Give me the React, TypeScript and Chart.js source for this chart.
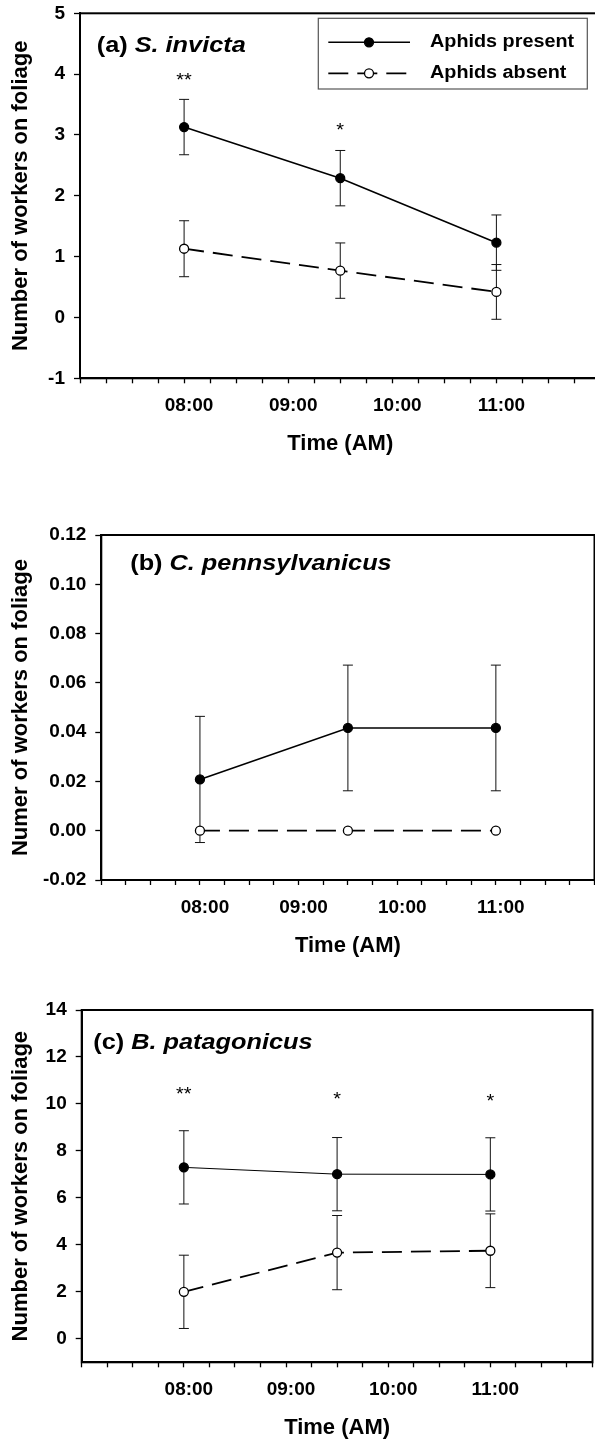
import React, { useEffect, useRef } from 'react';
import { Chart, registerables } from 'chart.js';

Chart.register(...registerables);

const FONT = "'Liberation Sans', Arial, Helvetica, sans-serif";

// ---------- data ----------
const TIMES = [8, 9.5, 11];
const X_MIN = 7;
const X_MAX = 12;
const X_MINOR_STEP = 0.25;
const TIME_TICK_VALUES = [8, 9, 10, 11];
const TIME_TICK_LABELS = ['08:00', '09:00', '10:00', '11:00'];
const SERIES_LABELS = ['Aphids present', 'Aphids absent'];

// (a) S. invicta
const A_PRESENT = [3.13, 2.29, 1.23];
const A_PRESENT_SE = [0.455, 0.455, 0.455];
const A_ABSENT = [1.13, 0.77, 0.42];
const A_ABSENT_SE = [0.46, 0.455, 0.45];
const A_Y_TICKS = [-1, 0, 1, 2, 3, 4, 5];
const A_STAR_X = [8, 9.5];
const A_STAR_Y = [3.94, 3.11];
const A_STAR_TEXT = ['**', '*'];

// (b) C. pennsylvanicus
const B_PRESENT = [0.0208, 0.0417, 0.0417];
const B_PRESENT_SE = [0.0256, 0.0255, 0.0255];
const B_ABSENT = [0, 0, 0];
const B_ABSENT_SE = [0, 0, 0];
const B_Y_TICKS = [-0.02, 0, 0.02, 0.04, 0.06, 0.08, 0.1, 0.12];
const B_STAR_X: number[] = [];
const B_STAR_Y: number[] = [];
const B_STAR_TEXT: string[] = [];

// (c) B. patagonicus
const C_PRESENT = [7.3, 7.01, 7.0];
const C_PRESENT_SE = [1.56, 1.56, 1.56];
const C_ABSENT = [2.0, 3.67, 3.75];
const C_ABSENT_SE = [1.56, 1.58, 1.57];
const C_Y_TICKS = [0, 2, 4, 6, 8, 10, 12, 14];
const C_STAR_X = [8, 9.5, 11];
const C_STAR_Y = [10.52, 10.28, 10.2];
const C_STAR_TEXT = ['**', '*', '*'];

// ---------- panel layout ----------
const X_TICK_PAD = 11.5;
const PANELS = [
  {
    key: 'a', prefix: '(a) ', species: 'S. invicta', yTitle: 'Number of workers on foliage',
    yMin: -1, yMax: 5, yTicks: A_Y_TICKS, yDecimals: 0,
    present: A_PRESENT, presentSE: A_PRESENT_SE, absent: A_ABSENT, absentSE: A_ABSENT_SE,
    starX: A_STAR_X, starY: A_STAR_Y, starText: A_STAR_TEXT,
    presentWidth: 1.6, legend: true,
    left: 80, right: 600.7, top: 13.3, bottom: 378.3, titleDx: 16.7, titleDy: 39,
  },
  {
    key: 'b', prefix: '(b) ', species: 'C. pennsylvanicus', yTitle: 'Numer of workers on foliage',
    yMin: -0.02, yMax: 0.12, yTicks: B_Y_TICKS, yDecimals: 2,
    present: B_PRESENT, presentSE: B_PRESENT_SE, absent: B_ABSENT, absentSE: B_ABSENT_SE,
    starX: B_STAR_X, starY: B_STAR_Y, starText: B_STAR_TEXT,
    presentWidth: 1.6, legend: false,
    left: 101.3, right: 594, top: 535, bottom: 880, titleDx: 28.9, titleDy: 35,
  },
  {
    key: 'c', prefix: '(c) ', species: 'B. patagonicus', yTitle: 'Number of workers on foliage',
    yMin: -1, yMax: 14, yTicks: C_Y_TICKS, yDecimals: 0,
    present: C_PRESENT, presentSE: C_PRESENT_SE, absent: C_ABSENT, absentSE: C_ABSENT_SE,
    starX: C_STAR_X, starY: C_STAR_Y, starText: C_STAR_TEXT,
    presentWidth: 1, legend: false,
    left: 81.7, right: 592, top: 1010, bottom: 1362.3, titleDx: 11.6, titleDy: 39.3,
  },
];

function geom(p: any) {
  const canvasTop = Math.round(p.top - 30);
  const canvasH = Math.round(p.bottom + 80 - canvasTop);
  const canvasW = Math.round(p.right + X_TICK_PAD);
  const xAxisH = canvasTop + canvasH - p.bottom;
  return { canvasTop, canvasH, canvasW, xAxisH, padTop: p.top - canvasTop };
}

function drawStretched(ctx: CanvasRenderingContext2D, text: string, x: number, y: number, font: string, sx: number, align = 'left') {
  ctx.save();
  ctx.font = font;
  const w = ctx.measureText(text).width * sx;
  const x0 = align === 'center' ? x - w / 2 : x;
  ctx.translate(x0, y);
  ctx.scale(sx, 1);
  ctx.textAlign = 'left';
  ctx.textBaseline = 'alphabetic';
  ctx.fillStyle = '#000';
  ctx.fillText(text, 0, 0);
  ctx.restore();
  return w;
}

const decorPlugin = {
  id: 'decor',
  beforeDatasetsDraw(chart: any) {
    const { ctx, scales } = chart;
    const xs = scales.x, ys = scales.y;
    ctx.save();
    ctx.strokeStyle = '#111';
    ctx.lineWidth = 1;
    chart.data.datasets.forEach((ds: any) => {
      ds.data.forEach((pt: any, j: number) => {
        const e = ds.se[j];
        if (!e) return;
        const px = xs.getPixelForValue(pt.x);
        const y1 = ys.getPixelForValue(pt.y + e);
        const y2 = ys.getPixelForValue(pt.y - e);
        ctx.beginPath();
        ctx.moveTo(px, y1); ctx.lineTo(px, y2);
        ctx.moveTo(px - 5, y1); ctx.lineTo(px + 5, y1);
        ctx.moveTo(px - 5, y2); ctx.lineTo(px + 5, y2);
        ctx.stroke();
      });
    });
    ctx.restore();
  },
  afterDatasetsDraw(chart: any, _args: any, opts: any) {
    const { ctx, chartArea, scales } = chart;
    const { left, top, right, bottom } = chartArea;
    // frame
    ctx.save();
    ctx.strokeStyle = '#000';
    ctx.lineWidth = 2;
    ctx.strokeRect(left, top, right - left, bottom - top);
    ctx.restore();
    // panel title
    const tx = left + opts.titleDx;
    const ty = top + opts.titleDy;
    const w = drawStretched(ctx, opts.prefix, tx, ty, `bold 22px ${FONT}`, 1.15);
    drawStretched(ctx, opts.species, tx + w, ty, `italic bold 22px ${FONT}`, 1.15);
    // significance stars
    opts.starX.forEach((sxv: number, i: number) => {
      const px = scales.x.getPixelForValue(sxv);
      const py = scales.y.getPixelForValue(opts.starY[i]);
      drawStretched(ctx, opts.starText[i], px, py + 8, `normal 19px ${FONT}`, 1.05, 'center');
    });
    // legend (canvas coords; panel (a) canvas offset handled by opts.offY)
    if (opts.legend) {
      const oy = opts.offY;
      const bx = 318.3, by = 18.3 - oy, bw = 269, bh = 70.7;
      ctx.save();
      ctx.strokeStyle = '#555';
      ctx.lineWidth = 1.2;
      ctx.strokeRect(bx, by, bw, bh);
      ctx.restore();
      const rows = [42.3 - oy, 73.3 - oy];
      chart.data.datasets.forEach((ds: any, i: number) => {
        const ry = rows[i];
        ctx.save();
        ctx.strokeStyle = '#000';
        ctx.lineWidth = ds.borderWidth;
        ctx.setLineDash(ds.borderDash || []);
        ctx.beginPath();
        ctx.moveTo(328.3, ry); ctx.lineTo(410, ry);
        ctx.stroke();
        ctx.setLineDash([]);
        ctx.beginPath();
        ctx.arc(369, ry, 4.5, 0, Math.PI * 2);
        ctx.fillStyle = ds.pointBackgroundColor;
        ctx.fill();
        ctx.lineWidth = ds.pointBorderWidth;
        ctx.strokeStyle = '#000';
        ctx.stroke();
        ctx.restore();
        drawStretched(ctx, ds.label, 430, ry + 5, `bold 18px ${FONT}`, 1.1);
      });
    }
  },
};

function buildConfig(p: any): any {
  const g = geom(p);
  const titlePadBottom = g.xAxisH - 13.2 - 65.7;
  const ds = (label: string, ys: number[], se: number[], dashed: boolean) => ({
    label,
    data: TIMES.map((t, i) => ({ x: t, y: ys[i] })),
    se,
    borderColor: '#000',
    borderWidth: dashed ? 1.8 : p.presentWidth,
    borderDash: dashed ? [20, 9] : [],
    pointRadius: 4.5,
    pointHoverRadius: 4.5,
    pointBackgroundColor: dashed ? '#fff' : '#000',
    pointBorderColor: '#000',
    pointBorderWidth: 1.3,
    tension: 0,
    fill: false,
    clip: false,
  });
  return {
    type: 'line',
    data: {
      datasets: [
        ds(SERIES_LABELS[0], p.present, p.presentSE, false),
        ds(SERIES_LABELS[1], p.absent, p.absentSE, true),
      ],
    },
    plugins: [decorPlugin],
    options: {
      animation: false,
      responsive: false,
      devicePixelRatio: 1,
      events: [],
      layout: {
        padding: { top: g.padTop, left: 0, right: 0, bottom: 0 },
      },
      plugins: {
        legend: { display: false },
        tooltip: { enabled: false },
        decor: {
          prefix: p.prefix, species: p.species, titleDx: p.titleDx, titleDy: p.titleDy,
          starX: p.starX, starY: p.starY, starText: p.starText, legend: p.legend, offY: g.canvasTop,
        },
      },
      scales: {
        x: {
          type: 'linear',
          min: X_MIN,
          max: X_MAX,
          afterFit: (s: any) => { s.height = g.xAxisH; },
          ticks: {
            stepSize: X_MINOR_STEP,
            autoSkip: false,
            maxRotation: 0,
            minRotation: 0,
            padding: X_TICK_PAD,
            labelOffset: 5,
            color: '#000',
            font: { family: FONT, size: 19, weight: 'bold', lineHeight: 1.2 },
            callback: (v: any) => {
              const i = TIME_TICK_VALUES.indexOf(Number(v));
              return i >= 0 ? TIME_TICK_LABELS[i] : '';
            },
          },
          grid: { drawOnChartArea: false, drawTicks: true, tickLength: 5, tickColor: '#000', tickWidth: 1.3 },
          border: { display: true, color: '#000', width: 2 },
          title: {
            display: true, text: 'Time (AM)', color: '#000',
            font: { family: FONT, size: 22, weight: 'bold', lineHeight: 1.2 },
            padding: { top: 0, bottom: titlePadBottom },
          },
        },
        y: {
          type: 'linear',
          min: p.yMin,
          max: p.yMax,
          afterBuildTicks: (s: any) => { s.ticks = p.yTicks.map((v: number) => ({ value: v })); },
          afterFit: (s: any) => { s.width = p.left; },
          ticks: {
            padding: 9,
            color: '#000',
            font: { family: FONT, size: 19, weight: 'bold', lineHeight: 1.2 },
            callback: (v: any) => Number(v).toFixed(p.yDecimals),
          },
          grid: { drawOnChartArea: false, drawTicks: true, tickLength: 6, tickColor: '#000', tickWidth: 1.3 },
          border: { display: true, color: '#000', width: 2 },
          title: {
            display: true, text: p.yTitle, color: '#000',
            font: { family: FONT, size: 22, weight: 'bold', lineHeight: 1.2 },
            padding: { top: 7.4, bottom: 0 },
          },
        },
      },
    },
  };
}

function Panel({ p }: { p: any }) {
  const ref = useRef<HTMLCanvasElement>(null);
  const g = geom(p);
  useEffect(() => {
    const chart = new Chart(ref.current as HTMLCanvasElement, buildConfig(p));
    return () => chart.destroy();
  }, [p]);
  return (
    <canvas
      ref={ref}
      width={g.canvasW}
      height={g.canvasH}
      style={{ position: 'absolute', left: 0, top: g.canvasTop, width: g.canvasW, height: g.canvasH }}
    />
  );
}

export default function App() {
  return (
    <div style={{ position: 'absolute', left: 0, top: 0, width: 595, height: 1439, overflow: 'hidden', background: '#fff' }}>
      {PANELS.map((p) => (
        <Panel key={p.key} p={p} />
      ))}
    </div>
  );
}
